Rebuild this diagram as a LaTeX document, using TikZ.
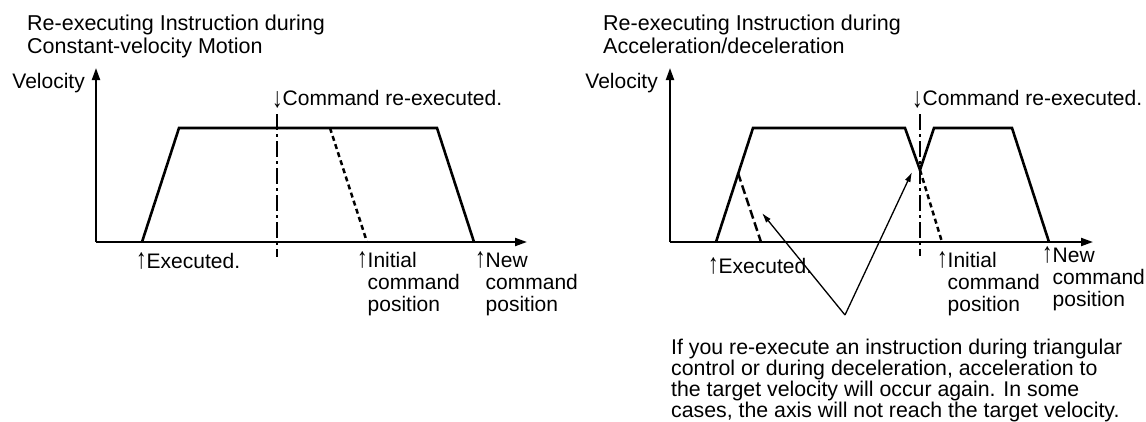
\documentclass[tikz,border=0pt]{standalone}
\usepackage{fontspec}
\setmainfont{Liberation Sans}
\usetikzlibrary{arrows.meta}
\newcommand{\uparr}{\scalebox{1}[1.35]{↑}}
\newcommand{\dnarr}{\raisebox{-0.1em}{\scalebox{1}[1.35]{↓}}}

\begin{document}
\begin{tikzpicture}[
  x=1pt, y=-1pt,
  lbl/.style={anchor=base west, inner sep=0pt, align=left, font=\fontsize{21}{22}\selectfont},
  head/.style={lbl, font=\fontsize{21.5}{23}\selectfont},
  note/.style={lbl, font=\fontsize{21.3}{21}\selectfont},
  axis/.style={line width=2pt, -{Triangle[length=12pt,width=8pt]}},
  profile/.style={line width=2.6pt, line join=miter},
  stopline/.style={line width=2.5pt, dash pattern=on 5pt off 3.5pt},
  retryline/.style={line width=2.4pt, dash pattern=on 9pt off 4pt},
  markline/.style={line width=1.7pt, dash pattern=on 16pt off 4pt on 3pt off 4pt},
  callout/.style={line width=1.3pt, -{Latex[length=10pt,width=6pt]}}
]
\useasboundingbox (0,0) rectangle (1146,421);

% constant-velocity case
\node[head] (titleL) at (27,53) {Re-executing Instruction during\\Constant-velocity Motion};
\node[lbl, anchor=base east] (velL) at (85,88) {Velocity};
\coordinate (oL) at (96,242);
\coordinate (yL) at (96,68);
\coordinate (xL) at (527,242);
\draw[axis] (oL) -- (yL);
\draw[axis] (oL) -- (xL);
\coordinate (aL) at (142,242);
\coordinate (bL) at (179,128);
\coordinate (cL) at (437,128);
\coordinate (dL) at (474,242);
\draw[profile] (aL) -- (bL) -- (cL) -- (dL);
\coordinate (sL) at (330,128);
\coordinate (tL) at (367,242);
\draw[stopline] (sL) -- (tL);
\coordinate (mLtop) at (277,114);
\coordinate (mLbot) at (277,257);
\draw[markline] (mLtop) -- (mLbot);
\node[lbl] (cmdL) at (272,105) {\dnarr Command re-executed.};
\node[lbl] (exeL) at (136,268) {\uparr Executed.};
\node[lbl] (iniL) at (357,311) {\uparr Initial\\\hphantom{\uparr}command\\\hphantom{\uparr}position};
\node[lbl] (newL) at (475,311) {\uparr New\\\hphantom{\uparr}command\\\hphantom{\uparr}position};

% acceleration/deceleration case
\node[head] (titleR) at (603,53) {Re-executing Instruction during\\Acceleration/deceleration};
\node[lbl, anchor=base east] (velR) at (658,88) {Velocity};
\coordinate (oR) at (670,242);
\coordinate (yR) at (670,68);
\coordinate (xR) at (1093,242);
\draw[axis] (oR) -- (yR);
\draw[axis] (oR) -- (xR);
\coordinate (aR) at (716,242);
\coordinate (bR) at (753,128);
\coordinate (cR) at (905,128);
\coordinate (vR) at (920,170);
\coordinate (dR) at (934,128);
\coordinate (eR) at (1012,128);
\coordinate (fR) at (1049,242);
\draw[profile] (aR) -- (bR) -- (cR) -- (vR) -- (dR) -- (eR) -- (fR);
\coordinate (rR) at (738,173);
\coordinate (rRend) at (761,242);
\draw[retryline] (rR) -- (rRend);
\coordinate (tR) at (942,242);
\draw[stopline] (vR) -- (tR);
\coordinate (mRtop) at (920,114);
\coordinate (mRbot) at (920,256);
\draw[markline] (mRtop) -- (mRbot);
\node[lbl] (cmdR) at (912,105) {\dnarr Command re-executed.};
\node[lbl] (exeR) at (708,273) {\uparr Executed.};
\node[lbl] (iniR) at (937,311) {\uparr Initial\\\hphantom{\uparr}command\\\hphantom{\uparr}position};
\node[lbl] (newR) at (1042,306) {\uparr New\\\hphantom{\uparr}command\\\hphantom{\uparr}position};
\coordinate (apex) at (845,315);
\coordinate (hit1) at (762,213);
\coordinate (hit2) at (912,172);
\draw[callout] (apex) -- (hit1);
\draw[callout] (apex) -- (hit2);
\node[note] (noteR) at (671,417) {If you re-execute an instruction during triangular\\control or during deceleration, acceleration to\\the target velocity will occur again. In some\\cases, the axis will not reach the target velocity.};
\end{tikzpicture}
\end{document}
